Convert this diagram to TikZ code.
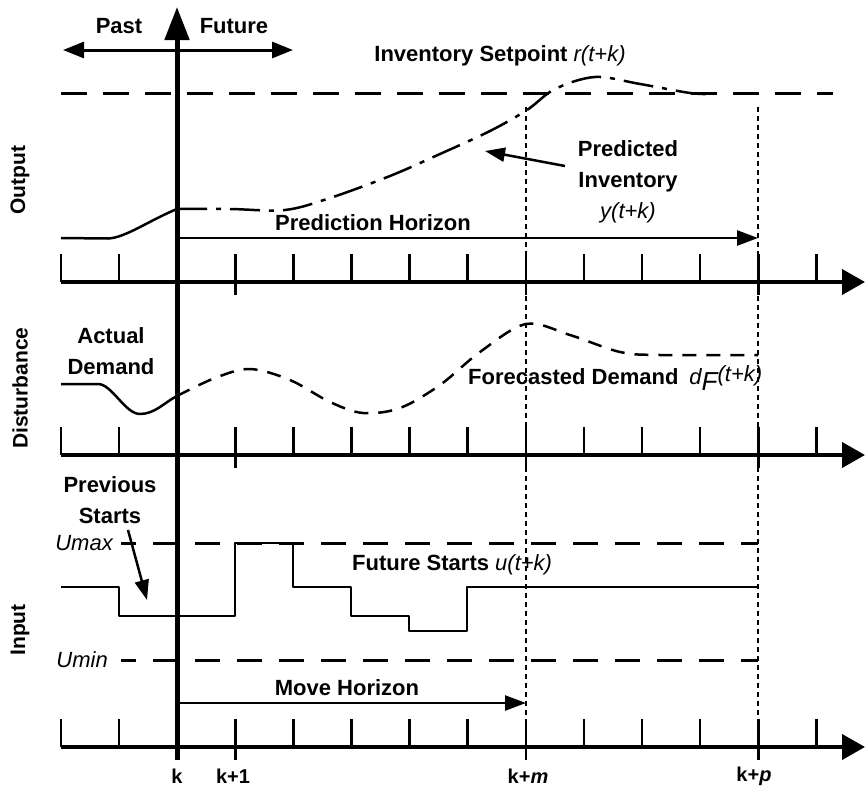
\documentclass[tikz,border=0pt]{standalone}
\usepackage{fontspec}
\setmainfont{Liberation Sans}
\usetikzlibrary{arrows.meta}
\begin{document}
\begin{tikzpicture}[x=1pt,y=-1pt,
  lbl/.style={font=\bfseries\fontsize{22}{31}\selectfont, inner sep=0pt},
  vlbl/.style={font=\bfseries\fontsize{21}{26}\selectfont, inner sep=0pt, rotate=90},
  axisline/.style={line width=4pt, -{Triangle[length=23pt,width=25pt]}},
  tickline/.style={line width=2.6pt},
  vaxis/.style={line width=5pt, -{Triangle[length=33pt,width=24pt]}},
  curve/.style={line width=2.5pt, line join=round},
  horizon/.style={line width=2.5pt, -{Triangle[length=21pt,width=15pt]}},
  pointer/.style={line width=2.5pt, -{Triangle[length=20pt,width=14pt]}},
  guide/.style={line width=1.3pt, dash pattern=on 5pt off 4pt},
  limit/.style={line width=3pt, dash pattern=on 26pt off 16pt},
]
\fill[white] (0,0) rectangle (865,787);
\useasboundingbox (0,0) rectangle (865,787);

% guide lines k+m and k+p
\coordinate (gmT) at (526,107); \coordinate (gmB) at (526,760);
\coordinate (gpT) at (758,107); \coordinate (gpB) at (758,760);
\draw[guide] (gmT) -- (gmB);
\draw[guide] (gpT) -- (gpB);

% three time axes with ticks
\foreach \ay/\nm in {282/out,455/dist,747/inp}{
  \coordinate (\nm L) at (61,\ay);
  \coordinate (\nm R) at (865,\ay);
  \draw[axisline] (\nm L) -- (\nm R);
  \foreach \i in {0,1,3,4,5,6,7,8,9,10,11,12,13}{
    \pgfmathsetmacro{\tx}{61+58.1*\i}
    \draw[tickline] (\tx,\ay-28) -- (\tx,\ay);
  }
  \foreach \i in {3,8,12}{
    \pgfmathsetmacro{\tx}{61+58.1*\i}
    \draw[tickline] (\tx,\ay) -- (\tx,\ay+13);
  }
}

% vertical axis
\coordinate (vB) at (177,760); \coordinate (vT) at (177,7);
\draw[vaxis] (vB) -- (vT);

% past / future
\coordinate (pfL) at (63,50); \coordinate (pfR) at (293,50);
\draw[line width=3pt, {Triangle[length=21pt,width=16pt]}-{Triangle[length=21pt,width=16pt]}] (pfL) -- (pfR);
\node[lbl] (past) at (119,26) {Past};
\node[lbl] (future) at (234,26) {Future};

% output panel
\node[vlbl] (outlbl) at (20,180) {Output};
\coordinate (spL) at (61,93); \coordinate (spR) at (833,93);
\draw[limit] (spL) -- (spR);
\node[lbl] (setpt) at (500,56) {Inventory Setpoint \textmd{\itshape r(t+k)}};
\draw[curve] (61,238) -- (108,238.5) .. controls (125,238) and (150,220) .. (177,209);
\draw[curve, dash pattern=on 30pt off 9pt on 5pt off 9pt]
  plot[smooth, tension=0.55] coordinates {(177,209) (230,209) (285,210) (330,198) (390,176) (440,154) (490,131) (527,110) (555,89) (595,77) (640,84) (690,93) (713,94)};
\node[lbl, align=center] (pred) at (628,182) {Predicted\\Inventory\\\textmd{\itshape y(t+k)}};
\coordinate (predtip) at (485,151);
\draw[pointer] (565,166) -- (predtip);
\coordinate (phS) at (177,238); \coordinate (phE) at (758,238);
\draw[horizon] (phS) -- (phE);
\node[lbl] (phlbl) at (373,223) {Prediction Horizon};

% disturbance panel
\node[vlbl] (distlbl) at (20,388) {Disturbance};
\node[lbl, align=center] (actual) at (111,351) {Actual\\Demand};
\draw[curve] (61,384) -- (98,384) .. controls (112,384) and (125,414) .. (140,414) .. controls (155,414) and (165,402) .. (177,396);
\draw[curve, dash pattern=on 14pt off 10pt]
  plot[smooth, tension=0.55] coordinates {(177,396) (215,378) (250,369) (290,380) (330,402) (363,413) (400,408) (440,385) (480,352) (526,324) (570,335) (620,352) (660,355) (758,355)};
\node[lbl, anchor=west] (fcast) at (468,378) {Forecasted Demand\hspace{0.5em}\textmd{\itshape d\raisebox{-0.45ex}{\fontsize{26}{26}\selectfont F}\raisebox{0.25ex}{(t+k)}}};

% input panel
\node[vlbl] (inlbl) at (20,630) {Input};
\node[lbl, align=center] (prev) at (110,500) {Previous\\Starts};
\node[lbl, font=\mdseries\itshape\fontsize{22}{26}\selectfont, anchor=east] (umax) at (113,543) {Umax};
\node[lbl, font=\mdseries\itshape\fontsize{22}{26}\selectfont, anchor=east] (umin) at (108,660) {Umin};
\coordinate (umaxL) at (121,543); \coordinate (umaxR) at (758,543);
\coordinate (uminL) at (121,660); \coordinate (uminR) at (758,660);
\draw[line width=3pt, dash pattern=on 25pt off 17pt, dash phase=10pt] (umaxL) -- (umaxR);
\draw[line width=3pt, dash pattern=on 25pt off 17pt, dash phase=10pt] (uminL) -- (uminR);
\draw[curve] (61,587) -- (119,587) -- (119,616) -- (235,616) -- (235,543) -- (293,543) -- (293,587) -- (351,587) -- (351,616) -- (409,616) -- (409,631) -- (467,631) -- (467,587) -- (758,587);
\draw[pointer] (128,530) -- (147,600);
\node[lbl, anchor=west] (fstarts) at (352,565) {Future Starts \textmd{\itshape u(t+k)}};
\coordinate (mhS) at (177,703); \coordinate (mhE) at (526,703);
\draw[horizon] (mhS) -- (mhE);
\node[lbl] (mhlbl) at (347,688) {Move Horizon};

% time labels
\node[lbl, font=\bfseries\fontsize{20}{24}\selectfont] (tk) at (177,776) {k};
\node[lbl, font=\bfseries\fontsize{20}{24}\selectfont] (tk1) at (233,776) {k+1};
\node[lbl, font=\bfseries\fontsize{20}{24}\selectfont] (tkm) at (528,776) {k+\textit{m}};
\node[lbl, font=\bfseries\fontsize{20}{24}\selectfont] (tkp) at (754,776) {k+\textit{p}};
\end{tikzpicture}
\end{document}
